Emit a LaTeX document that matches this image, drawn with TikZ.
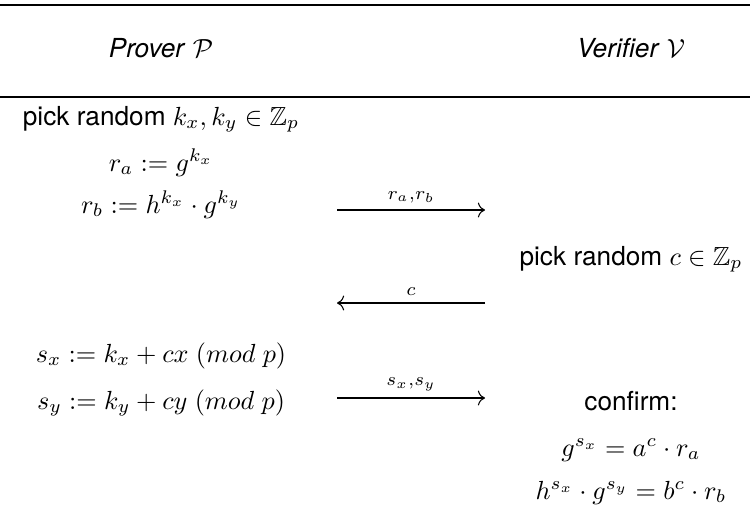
\documentclass[tikz,border=0pt]{standalone}
\usepackage{amsmath}
\usepackage{amssymb}
\usepackage[no-math]{fontspec}
\setmainfont{TeX Gyre Heros}
\usetikzlibrary{arrows.meta}

\begin{document}
\begin{tikzpicture}[x=0.3817pt, y=-0.3817pt, line width=0.5pt,
    cell/.style={anchor=base, inner sep=0pt},
    msg/.style={line width=0.4pt, -{Computer Modern Rightarrow[scale=1.1]}},
    lbl/.style={above, inner sep=2.5pt}]
  \useasboundingbox (0,0) rectangle (750,512);
  \draw[line width=0.6pt] (0,5) -- (750,5);
  \draw[line width=0.6pt] (0,97) -- (750,97);
  % headers
  \node[cell] (prover) at (161,57) {\textit{Prover} $\mathcal{P}$};
  \node[cell] (verifier) at (631,57) {\textit{Verifier} $\mathcal{V}$};
  % prover side
  \node[cell] (pickk) at (161,125) {pick random $k_x, k_y \in \mathbb{Z}_p$};
  \node[cell] (ra) at (161,171) {$r_a := g^{k_x}$};
  \node[cell] (rb) at (161,213) {$r_b := h^{k_x} \cdot g^{k_y}$};
  \node[cell] (sx) at (161,362) {$s_x := k_x + cx\ (mod\ p)$};
  \node[cell] (sy) at (161,409) {$s_y := k_y + cy\ (mod\ p)$};
  % verifier side
  \node[cell] (pickc) at (631,265) {pick random $c \in \mathbb{Z}_p$};
  \node[cell] (confirm) at (631,410) {confirm:};
  \node[cell] (chka) at (631,456) {$g^{s_x} = a^c \cdot r_a$};
  \node[cell] (chkb) at (631,499) {$h^{s_x} \cdot g^{s_y} = b^c \cdot r_b$};
  % messages
  \coordinate (m1l) at (337,210);
  \coordinate (m1r) at (485,210);
  \coordinate (m2l) at (337,303);
  \coordinate (m2r) at (485,303);
  \coordinate (m3l) at (337,398);
  \coordinate (m3r) at (485,398);
  \draw[msg] (m1l) -- node[lbl] {$\scriptstyle r_a,r_b$} (m1r);
  \draw[msg] (m2r) -- node[lbl] {$\scriptstyle c$} (m2l);
  \draw[msg] (m3l) -- node[lbl] {$\scriptstyle s_x,s_y$} (m3r);
\end{tikzpicture}
\end{document}
